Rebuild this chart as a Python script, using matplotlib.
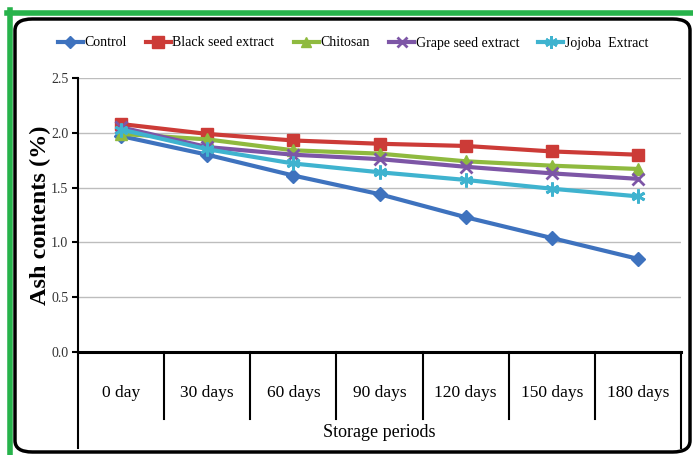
import matplotlib
matplotlib.use("Agg")
from matplotlib import pyplot as plt
from matplotlib.patches import FancyBboxPatch
from matplotlib.lines import Line2D

periods = ["0 day", "30 days", "60 days", "90 days", "120 days", "150 days", "180 days"]
control = [1.97, 1.80, 1.61, 1.44, 1.23, 1.04, 0.85]
black_seed = [2.08, 1.99, 1.93, 1.90, 1.88, 1.83, 1.80]
chitosan = [1.99, 1.94, 1.84, 1.81, 1.74, 1.70, 1.67]
grape_seed = [2.05, 1.87, 1.80, 1.76, 1.69, 1.63, 1.58]
jojoba = [2.03, 1.85, 1.72, 1.64, 1.57, 1.49, 1.42]

series = [
    ("Control", control, "#3E72BE", "D", 7, 1.0),
    ("Black seed extract", black_seed, "#CC3B37", "s", 9, 1.0),
    ("Chitosan", chitosan, "#8FBA3F", "^", 8, 1.0),
    ("Grape seed extract", grape_seed, "#7D56A6", "x", 8, 2.0),
    ("Jojoba  Extract", jojoba, "#3FB3CF", (6, 2, 0), 10, 2.0),
]

plt.rcParams["font.family"] = ["Liberation Serif", "DejaVu Serif"]

W, H = 693, 455
fig = plt.figure(figsize=(W / 100, H / 100), dpi=100)

# frame around the whole chart
fig.add_artist(Line2D([7 / W, 1.0], [1 - 12.5 / H] * 2, color="#27B34B", lw=4))
fig.add_artist(Line2D([9.5 / W] * 2, [0, 1 - 10 / H], color="#27B34B", lw=4))
fig.add_artist(FancyBboxPatch((15 / W, 1 - 452 / H), 675 / W, 433 / H,
                              boxstyle="round,pad=0,rounding_size=0.025",
                              transform=fig.transFigure, fill=False,
                              ec="black", lw=2.5))

x0, x1, y_top, y_bot = 78, 681, 78, 352
ax = fig.add_axes([x0 / W, 1 - y_bot / H, (x1 - x0) / W, (y_bot - y_top) / H])

xs = list(range(len(periods)))
for name, vals, color, marker, ms, mew in series:
    ax.plot(xs, vals, color=color, lw=3, marker=marker, ms=ms,
            mew=mew, mec=color, mfc=color, label=name)

ax.set_xlim(-0.5, len(periods) - 0.5)
ax.set_ylim(0, 2.5)
ax.set_yticks([0, 0.5, 1.0, 1.5, 2.0, 2.5])
ax.set_yticklabels(["0.0", "0.5", "1.0", "1.5", "2.0", "2.5"])
ax.grid(axis="y", color="#BDBDBD", lw=1)
ax.set_axisbelow(True)
ax.tick_params(axis="y", direction="out", length=4, width=1.5, labelsize=10,
               labelcolor="#333333", pad=3)
ax.set_xticks(xs)
ax.set_xticklabels(periods, fontsize=12.5)
ax.tick_params(axis="x", length=0, pad=24)

for side in ("top", "right"):
    ax.spines[side].set_visible(False)
ax.spines["left"].set_linewidth(1.5)
ax.spines["bottom"].set_linewidth(2.2)

# category separators below the x axis
trans = ax.get_xaxis_transform()
for i in range(len(periods) + 1):
    xb = i - 0.5
    low = -0.35 if i in (0, len(periods)) else -0.245
    ax.plot([xb, xb], [0, low], color="black", lw=1.5, transform=trans,
            clip_on=False)

ax.text(0.5, -0.295, "Storage periods", transform=ax.transAxes,
        ha="center", va="center", fontsize=13)
ax.set_ylabel("Ash contents (%)", fontsize=17.5, fontweight="bold", labelpad=0)

fig.legend(loc="center", bbox_to_anchor=(353 / W, 1 - 43 / H), ncol=5,
           frameon=False, fontsize=10, handlelength=1.8, handletextpad=0.1,
           columnspacing=1.4, markerscale=0.9)

fig.savefig("out.png", dpi=100)
